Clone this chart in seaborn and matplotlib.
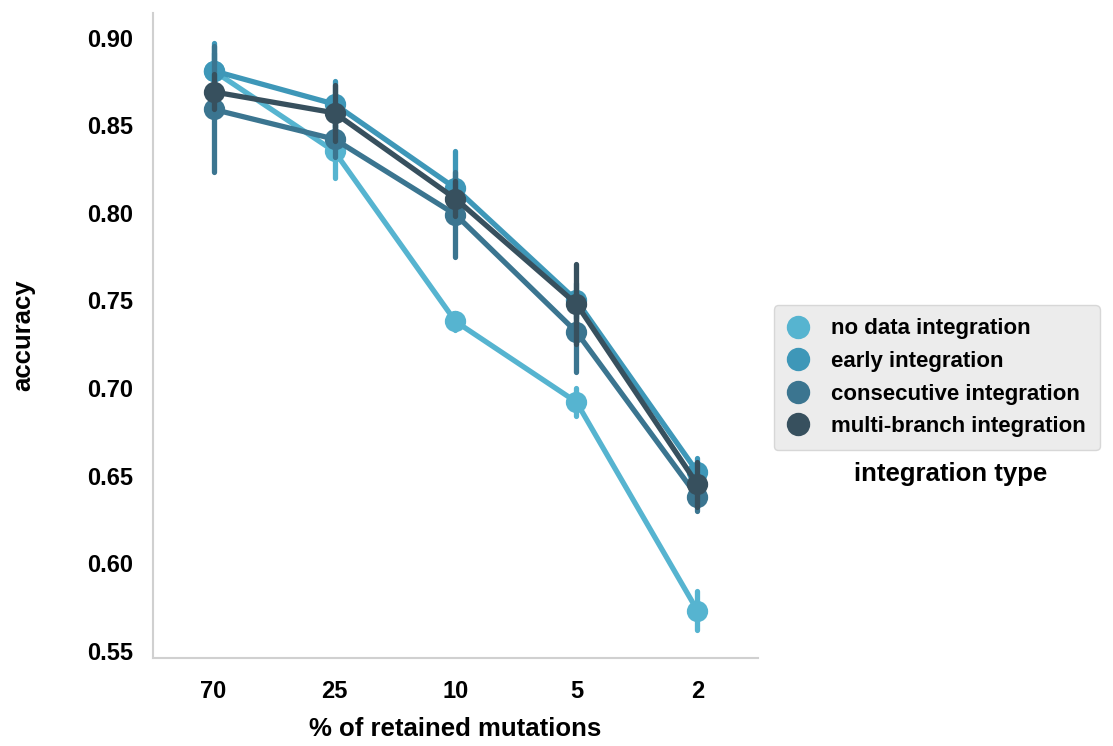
import numpy as np
import pandas as pd
import matplotlib
matplotlib.use("Agg")
import matplotlib.pyplot as plt
import seaborn as sns

categories = ["70", "25", "10", "5", "2"]
series = ["no data integration", "early integration",
          "consecutive integration", "multi-branch integration"]
colors = ["#56b4d0", "#3e97b8", "#3b7590", "#37505e"]

no_data_mean = [0.881, 0.835, 0.738, 0.692, 0.573]
no_data_err = [0.010, 0.015, 0.005, 0.008, 0.011]
early_mean = [0.881, 0.862, 0.814, 0.750, 0.652]
early_err = [0.016, 0.013, 0.021, 0.010, 0.008]
consec_mean = [0.859, 0.842, 0.799, 0.732, 0.638]
consec_err = [0.036, 0.010, 0.024, 0.023, 0.008]
multi_mean = [0.869, 0.857, 0.808, 0.748, 0.645]
multi_err = [0.010, 0.016, 0.010, 0.023, 0.013]

means = [no_data_mean, early_mean, consec_mean, multi_mean]
errs = [no_data_err, early_err, consec_err, multi_err]

rows = []
for s, m_list, e_list in zip(series, means, errs):
    for c, m, e in zip(categories, m_list, e_list):
        rows.append({"x": c, "accuracy": m - e, "type": s})
        rows.append({"x": c, "accuracy": m + e, "type": s})
df = pd.DataFrame(rows)

sns.set_style("white")
plt.rcParams["font.family"] = ["Liberation Sans", "DejaVu Sans"]
plt.rcParams["font.weight"] = "bold"
plt.rcParams["text.color"] = "black"
plt.rcParams["axes.labelcolor"] = "black"
plt.rcParams["xtick.color"] = "black"
plt.rcParams["ytick.color"] = "black"

fig = plt.figure(figsize=(11.13, 7.46), dpi=100)
ax = fig.add_axes([0.1375, 0.118, 0.5435, 0.8646])

sns.pointplot(data=df, x="x", y="accuracy", hue="type", order=categories,
              hue_order=series, palette=colors, errorbar=("pi", 100),
              estimator="mean", ax=ax, markersize=12.5, linewidth=3.8,
              err_kws={"linewidth": 3.8}, legend=True)

ax.set_xlim(-0.5, 4.5)
ax.set_ylim(0.546, 0.914)
ax.set_yticks([0.55, 0.60, 0.65, 0.70, 0.75, 0.80, 0.85, 0.90])
ax.set_yticklabels(["0.55", "0.60", "0.65", "0.70", "0.75", "0.80", "0.85", "0.90"])
ax.tick_params(axis="both", labelsize=17, length=0)
ax.tick_params(axis="y", pad=14)
ax.tick_params(axis="x", pad=16)
for lab in ax.get_xticklabels() + ax.get_yticklabels():
    lab.set_fontweight("bold")
ax.set_xlabel("% of retained mutations", fontsize=18.5, fontweight="bold", labelpad=10)
ax.set_ylabel("accuracy", fontsize=18.5, fontweight="bold", labelpad=38)
sns.despine(ax=ax)
for sp in ["left", "bottom"]:
    ax.spines[sp].set_color("#d0d0d0")
    ax.spines[sp].set_linewidth(1.5)

handles, labels = ax.get_legend_handles_labels()
leg = ax.legend(handles, labels, loc="upper left", bbox_to_anchor=(1.026, 0.547),
                frameon=True, facecolor="#e8e8e8", edgecolor="#d0d0d0",
                prop={"size": 16, "weight": "bold"}, handletextpad=1.0,
                labelspacing=0.52, borderpad=0.6, handlelength=1.0,
                borderaxespad=0)
for h in leg.legend_handles:
    try:
        h.set_linestyle("none")
        h.set_markersize(14)
    except Exception:
        pass
ax.text(1.319, 0.285, "integration type", transform=ax.transAxes,
        ha="center", va="center", fontsize=18.5, fontweight="bold")

fig.savefig("out.png", dpi=100)
